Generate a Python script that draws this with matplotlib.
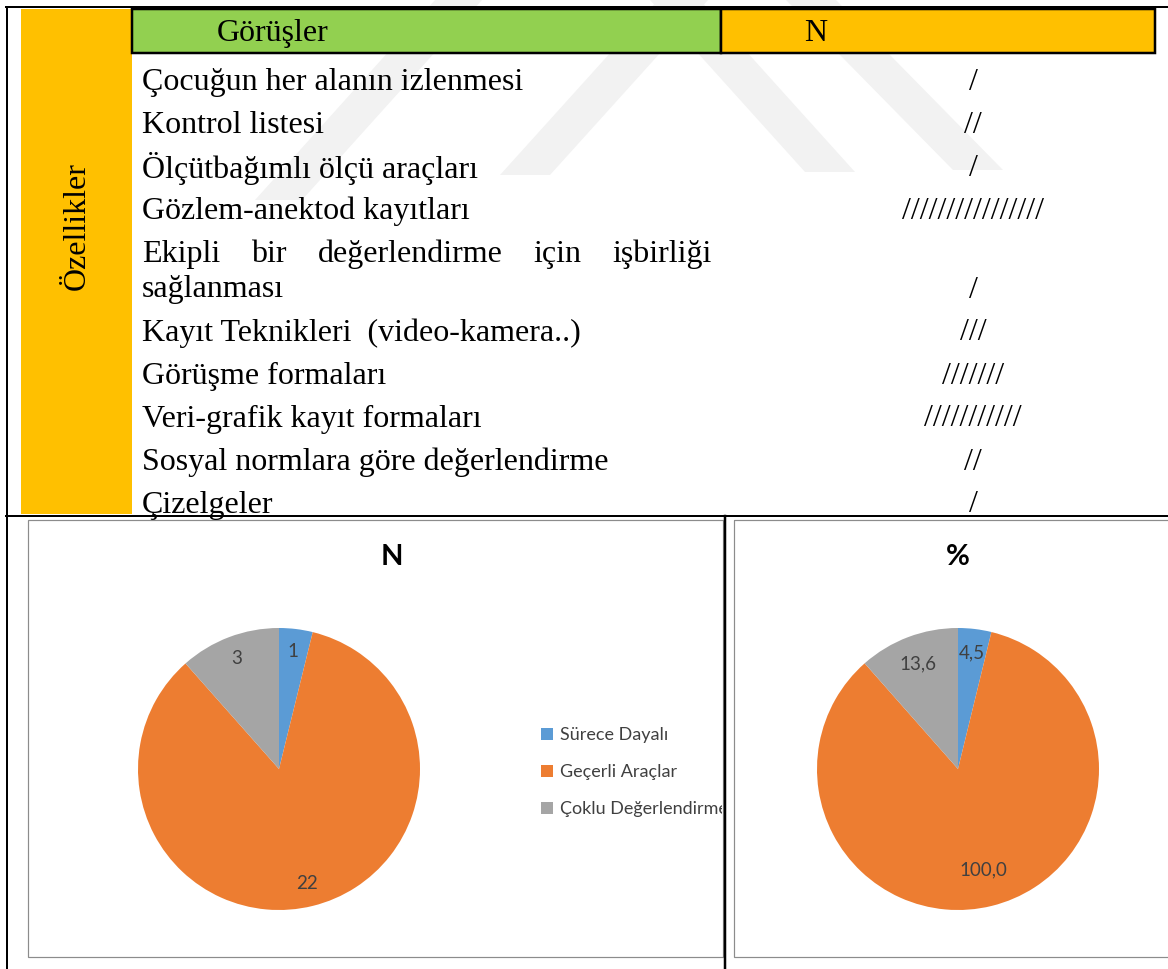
import numpy as np
import matplotlib
matplotlib.use("Agg")
import matplotlib.pyplot as plt
from matplotlib.patches import Rectangle, Polygon
from matplotlib.transforms import Bbox

W, H = 1168, 969

# tablo verisi
basliklar = ["Görüşler", "N"]
yan_baslik = "Özellikler"
gorusler = [
    "Çocuğun her alanın izlenmesi",
    "Kontrol listesi",
    "Ölçütbağımlı ölçü araçları",
    "Gözlem-anektod kayıtları",
    "Ekipli bir değerlendirme için işbirliği sağlanması",
    "Kayıt Teknikleri  (video-kamera..)",
    "Görüşme formaları",
    "Veri-grafik kayıt formaları",
    "Sosyal normlara göre değerlendirme",
    "Çizelgeler",
]
sayilar = [1, 2, 1, 16, 1, 3, 7, 11, 2, 1]

# pasta grafik verisi
kategoriler = ["Sürece Dayalı", "Geçerli Araçlar", "Çoklu Değerlendirme"]
n_degerler = [1, 22, 3]
yuzde_degerler = [4.5, 100.0, 13.6]
renkler = ["#5B9BD5", "#ED7D31", "#A5A5A5"]

serif = "Liberation Serif"
sans = "Lato"
yazi_renk = "#404040"
fs = 23

fig = plt.figure(figsize=(W / 100, H / 100), dpi=100)
ax = fig.add_axes([0, 0, 1, 1])
ax.set_xlim(0, W)
ax.set_ylim(H, 0)
ax.axis("off")

# silik filigran (arka plan)
su_rengi = "#f2f2f2"
for pts in [
    [(658, 0), (708, 0), (550, 175), (500, 175)],
    [(650, 0), (700, 0), (855, 172), (805, 172)],
    [(435, 0), (482, 0), (302, 200), (255, 200)],
    [(786, 0), (836, 0), (1003, 170), (953, 170)],
]:
    ax.add_patch(Polygon(pts, closed=True, color=su_rengi, lw=0, zorder=0))

px = 0.72  # 1 piksel = 0.72 pt
# dis cizgiler
ax.plot([6, W], [7, 7], color="black", lw=2 * px, zorder=3)
ax.plot([6.5, 6.5], [7, H], color="black", lw=2 * px, zorder=3)
ax.plot([6, W], [516, 516], color="black", lw=2 * px, zorder=3)
ax.plot([725, 725], [516, H], color="black", lw=2.5 * px, zorder=3)

# sari yan sutun
ax.add_patch(Rectangle((21, 9), 111, 505, color="#FFC000", lw=0, zorder=1))
ax.text(77, 226, yan_baslik, rotation=90, ha="center", va="center",
        fontsize=fs, family=serif, color="black", zorder=4)

# baslik satiri
ax.add_patch(Rectangle((132, 9), 589, 44, facecolor="#92D050",
                       edgecolor="black", lw=2.5 * px, zorder=2))
ax.add_patch(Rectangle((721, 9), 434, 44, facecolor="#FFC000",
                       edgecolor="black", lw=2.5 * px, zorder=2))
ax.text(273, 33, basliklar[0], ha="center", va="center", fontsize=fs,
        family=serif, zorder=4)
ax.text(816, 33, basliklar[1], ha="center", va="center", fontsize=fs,
        family=serif, zorder=4)

# satirlar
x_sol, x_sag, x_n = 142, 712, 973
y = 82
fig.canvas.draw()
r = fig.canvas.get_renderer()
for metin, n in zip(gorusler, sayilar):
    if metin.startswith("Ekipli"):
        kelimeler = metin.split()
        ilk = kelimeler[:-1]
        # iki yana yasli ilk satir
        tt = [ax.text(0, y, k, ha="left", va="center", fontsize=fs,
                      family=serif, zorder=4) for k in ilk]
        gen = [t.get_window_extent(r).width for t in tt]
        bosluk = (x_sag - x_sol - sum(gen)) / (len(tt) - 1)
        xx = x_sol
        for t, g in zip(tt, gen):
            t.set_x(xx)
            xx += g + bosluk
        y += 36
        ax.text(x_sol, y, kelimeler[-1], ha="left", va="center",
                fontsize=fs, family=serif, zorder=4)
    else:
        ax.text(x_sol, y, metin, ha="left", va="center", fontsize=fs,
                family=serif, zorder=4)
    ax.text(x_n, y, "/" * n, ha="center", va="center", fontsize=fs,
            family=serif, zorder=4)
    y += 43

# grafik cerceveleri
ax.add_patch(Rectangle((28, 520), 695, 437, fill=False, edgecolor="#8c8c8c",
                       lw=1.2 * px, zorder=2))
ax.add_patch(Rectangle((734, 520), 460, 437, fill=False, edgecolor="#8c8c8c",
                       lw=1.2 * px, zorder=2))

ax.text(392, 557, "N", ha="center", va="center", fontsize=21,
        fontweight="bold", family=sans, color="black", zorder=4)
ax.text(958, 557, "%", ha="center", va="center", fontsize=21,
        fontweight="bold", family=sans, color="black", zorder=4)


def pasta(merkez_x, merkez_y, yaricap, degerler, etiketler, uzakliklar):
    pax = fig.add_axes([(merkez_x - yaricap) / W, 1 - (merkez_y + yaricap) / H,
                        2 * yaricap / W, 2 * yaricap / H])
    wedges, _ = pax.pie(degerler, colors=renkler, startangle=90,
                        counterclock=False, radius=1)
    for w, e, d in zip(wedges, etiketler, uzakliklar):
        a = np.deg2rad((w.theta1 + w.theta2) / 2)
        pax.text(d * np.cos(a), d * np.sin(a), e, ha="center", va="center",
                 fontsize=13.5, family=sans, color=yazi_renk)
    pax.set_xlim(-1, 1)
    pax.set_ylim(-1, 1)
    return pax, wedges


sol_ax, sol_w = pasta(279, 769, 141, n_degerler,
                      [str(v) for v in n_degerler], [0.84, 0.84, 0.84])
sag_ax, _ = pasta(958, 769, 141, yuzde_degerler,
                  [f"{v:.1f}".replace(".", ",") for v in yuzde_degerler],
                  [0.83, 0.74, 0.80])

leg = sol_ax.legend(sol_w, kategoriler, loc="upper left",
                    bbox_to_anchor=(541 / W, 1 - 727 / H),
                    bbox_transform=fig.transFigure, frameon=False,
                    borderpad=0, borderaxespad=0, handlelength=0.65,
                    handleheight=0.65, handletextpad=0.4, labelspacing=1.17,
                    prop={"family": sans, "size": 13})
kirp = Bbox.from_extents(28 / W, 1 - 957 / H, 722 / W, 1 - 520 / H)
for t in leg.get_texts():
    t.set_color(yazi_renk)
    t.set_clip_box(fig.transFigure.transform_bbox(kirp))
    t.set_clip_on(True)

fig.savefig("out.png", dpi=100)
